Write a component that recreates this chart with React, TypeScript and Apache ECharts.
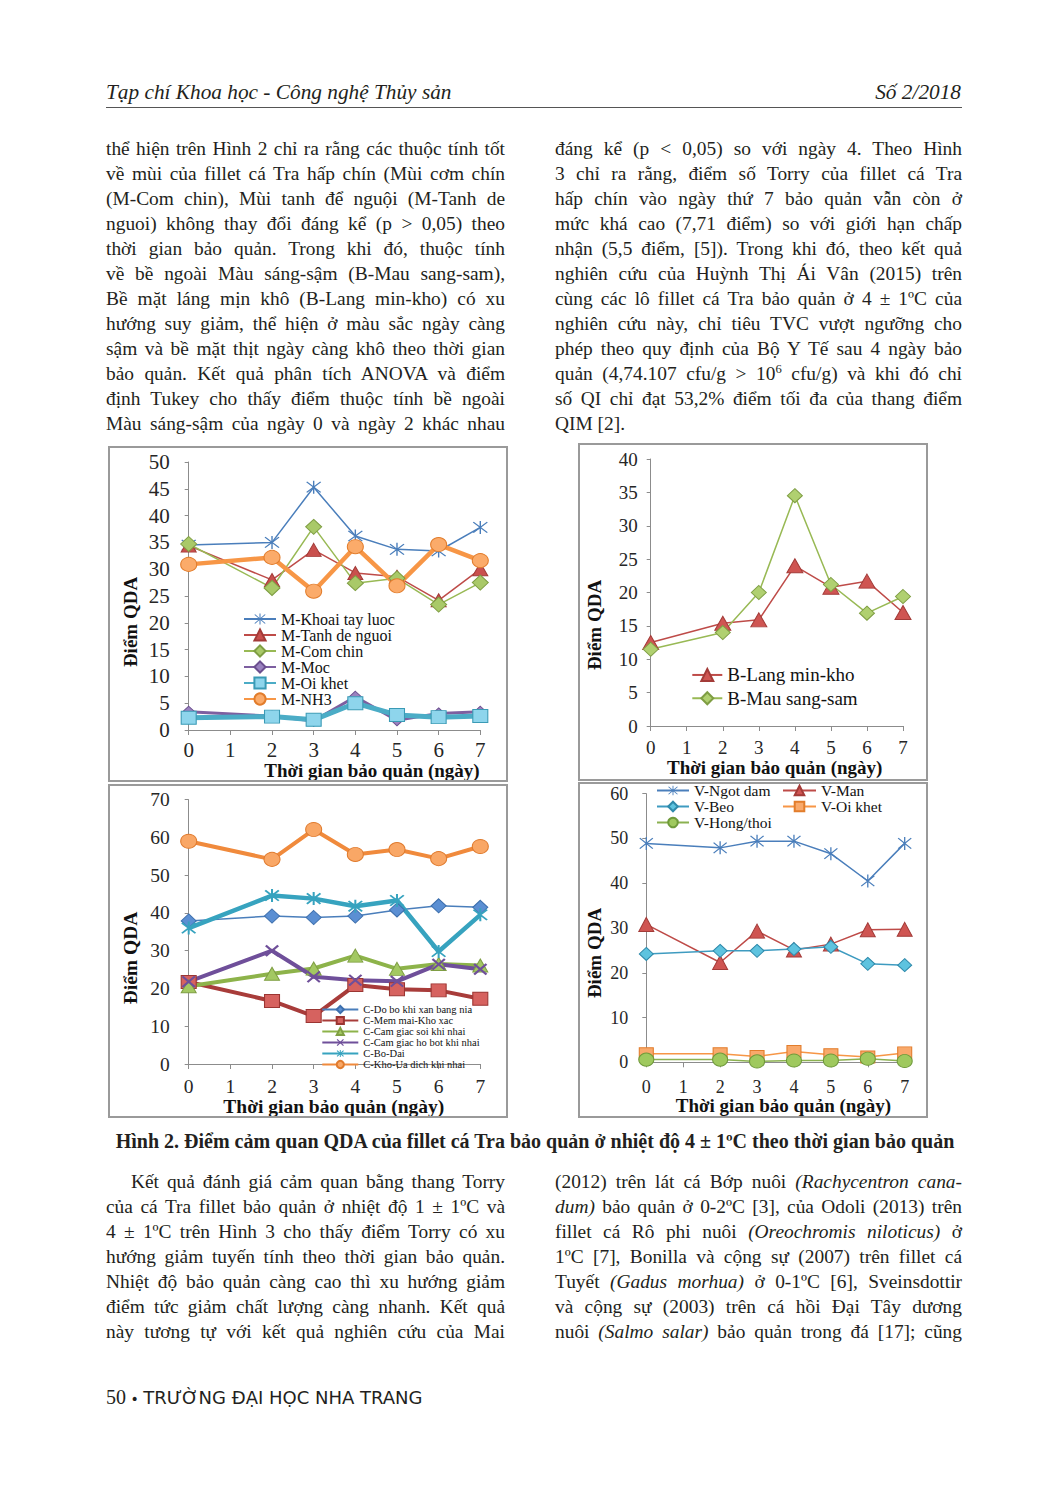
import React, { useEffect, useRef } from "react";
import * as echarts from "echarts";

// ---------------- DATA ----------------
const days = [0, 2, 3, 4, 5, 6, 7];

// Chart 1 – Mùi (odour)
const mKhoaiTayLuoc = [34.5, 35.0, 45.3, 36.2, 33.7, 33.4, 37.8];
const mTanhDeNguoi = [34.4, 28.0, 33.6, 29.3, 28.6, 24.2, 30.0];
const mComChin = [34.7, 26.5, 37.9, 27.4, 28.3, 23.4, 27.5];
const mMoc = [3.4, 2.6, 1.7, 6.2, 1.8, 3.1, 3.4];
const mOiKhet = [2.3, 2.5, 1.9, 5.0, 2.8, 2.4, 2.6];
const mNH3 = [30.9, 32.2, 25.9, 34.2, 26.9, 34.6, 31.6];

// Chart 2 – Bề ngoài (appearance)
const bLangMinKho = [12.5, 15.4, 15.9, 24.0, 20.8, 21.7, 17.0];
const bMauSangSam = [11.5, 14.0, 20.0, 34.5, 21.2, 16.9, 19.4];

// Chart 3 – Cấu trúc (texture)
const cDoBo = [37.9, 39.2, 38.8, 39.2, 40.8, 41.9, 41.5];
const cMemMai = [21.7, 16.7, 12.7, 20.9, 19.8, 19.5, 17.3];
const cSoi = [20.6, 23.9, 25.3, 28.7, 25.2, 26.5, 26.1];
const cHoBot = [21.8, 30.0, 23.1, 22.2, 21.9, 26.4, 25.1];
const cBoDai = [36.0, 44.6, 43.8, 41.8, 43.3, 29.8, 39.5];
const cKhoUa = [59.0, 54.2, 62.1, 55.5, 56.8, 54.4, 57.6];

// Chart 4 – Vị (flavour)
const vNgotDam = [48.9, 47.9, 49.4, 49.4, 46.6, 40.5, 48.9];
const vMan = [30.8, 22.3, 29.3, 25.1, 26.4, 29.6, 29.7];
const vBeo = [24.2, 24.9, 24.9, 25.3, 25.8, 22.0, 21.7];
const vOiKhet = [1.9, 1.9, 1.3, 2.4, 1.7, 1.2, 2.1];
const vHongThoi = [0.6, 0.6, 0.2, 0.4, 0.4, 0.8, 0.3];

const xTitle = "Thời gian bảo quản (ngày)";
const yTitle = "Điểm QDA";

// ---------------- TEXT ----------------
const headerLeft = "Tạp chí Khoa học - Công nghệ Thủy sản";
const headerRight = "Số 2/2018";

const topLeftLines = [
  "thể hiện trên Hình 2 chỉ ra rằng các thuộc tính tốt",
  "về mùi của fillet cá Tra hấp chín (Mùi cơm chín",
  "(M-Com chin), Mùi tanh để nguội (M-Tanh de",
  "nguoi) không thay đổi đáng kể (p > 0,05) theo",
  "thời gian bảo quản. Trong khi đó, thuộc tính",
  "về bề ngoài Màu sáng-sậm (B-Mau sang-sam),",
  "Bề mặt láng mịn khô (B-Lang min-kho) có xu",
  "hướng suy giảm, thể hiện ở màu sắc ngày càng",
  "sậm và bề mặt thịt ngày càng khô theo thời gian",
  "bảo quản. Kết quả phân tích ANOVA và điểm",
  "định Tukey cho thấy điểm thuộc tính bề ngoài",
  "Màu sáng-sậm của ngày 0 và ngày 2 khác nhau",
];
const topRightLines = [
  "đáng kể (p < 0,05) so với ngày 4. Theo Hình",
  "3 chỉ ra rằng, điểm số Torry của fillet cá Tra",
  "hấp chín vào ngày thứ 7 bảo quản vẫn còn ở",
  "mức khá cao (7,71 điểm) so với giới hạn chấp",
  "nhận (5,5 điểm, [5]). Trong khi đó, theo kết quả",
  "nghiên cứu của Huỳnh Thị Ái Vân (2015) trên",
  "cùng các lô fillet cá Tra bảo quản ở 4 ± 1ºC của",
  "nghiên cứu này, chỉ tiêu TVC vượt ngưỡng cho",
  "phép theo quy định của Bộ Y Tế sau 4 ngày bảo",
  "quản (4,74.107 cfu/g > 10^6^ cfu/g) và khi đó chỉ",
  "số QI chỉ đạt 53,2% điểm tối đa của thang điểm",
  "QIM [2].",
];
const caption =
  "Hình 2. Điểm cảm quan QDA của fillet cá Tra bảo quản ở nhiệt độ 4 ± 1ºC theo thời gian bảo quản";
const lowLeftLines = [
  "Kết quả đánh giá cảm quan bằng thang Torry",
  "của cá Tra fillet bảo quản ở nhiệt độ 1 ± 1ºC và",
  "4 ± 1ºC trên Hình 3 cho thấy điểm Torry có xu",
  "hướng giảm tuyến tính theo thời gian bảo quản.",
  "Nhiệt độ bảo quản càng cao thì xu hướng giảm",
  "điểm tức giảm chất lượng càng nhanh. Kết quả",
  "này tương tự với kết quả nghiên cứu của Mai",
];
const lowRightLines = [
  "(2012) trên lát cá Bớp nuôi _(Rachycentron cana-_",
  "_dum)_ bảo quản ở 0-2ºC [3], của Odoli (2013) trên",
  "fillet cá Rô phi nuôi _(Oreochromis niloticus)_ ở",
  "1ºC [7], Bonilla  và cộng sự (2007) trên fillet cá",
  "Tuyết _(Gadus morhua)_ ở 0-1ºC [6], Sveinsdottir",
  "và cộng sự (2003) trên cá hồi Đại Tây dương",
  "nuôi _(Salmo salar)_ bảo quản trong đá [17]; cũng",
];

// ---------------- STYLE HELPERS ----------------
const FONT = '"Liberation Serif", "Times New Roman", serif';
const AXC = "#8c8c8c";

function starPath(t: number, vertical: boolean): string {
  const o = t / 2 / Math.SQRT2;
  const f = (n: number) => n.toFixed(3);
  let p = "";
  if (vertical) {
    p += `M${f(10 - t / 2)},0L${f(10 + t / 2)},0L${f(10 + t / 2)},20L${f(10 - t / 2)},20Z `;
  }
  p += `M${f(2 + o)},${f(2 - o)}L${f(18 + o)},${f(18 - o)}L${f(18 - o)},${f(18 + o)}L${f(2 - o)},${f(2 + o)}Z `;
  p += `M${f(18 + o)},${f(2 + o)}L${f(2 + o)},${f(18 + o)}L${f(2 - o)},${f(18 - o)}L${f(18 - o)},${f(2 - o)}Z`;
  return "path://" + p;
}
const STAR = starPath(1.6, true);
const STAR_BOLD = starPath(2.4, true);
const CROSS = starPath(3, false);

interface SerOpt {
  symbol: string;
  size: number | number[];
  line: string;
  width: number;
  fill: string;
  border?: string;
  bw?: number;
}

function mk(name: string, vals: number[], o: SerOpt) {
  return {
    name,
    type: "line",
    data: days.map((d, i) => [d, vals[i]]),
    symbol: o.symbol,
    symbolSize: o.size,
    showAllSymbol: true,
    clip: false,
    silent: true,
    lineStyle: { color: o.line, width: o.width },
    itemStyle: {
      color: o.fill,
      borderColor: o.border || o.fill,
      borderWidth: o.bw === undefined ? 1 : o.bw,
    },
    emphasis: { disabled: true },
  };
}

interface ChartCfg {
  grid: { left: number; top: number; width: number; height: number };
  yMax: number;
  yInterval: number;
  tickFont: number;
  xMargin: number;
  yMargin: number;
  titleFont: number;
  xTitlePos: number[];
  yTitlePos: number[];
  legend: any;
  series: any[];
}

function buildOption(c: ChartCfg) {
  const labelStyle = { fontFamily: FONT, fontSize: c.tickFont, color: "#262626" };
  return {
    animation: false,
    backgroundColor: "#ffffff",
    grid: { ...c.grid, containLabel: false, outerBoundsMode: "none" },
    xAxis: {
      type: "value",
      min: 0,
      max: 7,
      interval: 1,
      axisLine: { show: true, onZero: false, lineStyle: { color: AXC, width: 1 } },
      axisTick: { show: true, length: 5, lineStyle: { color: AXC } },
      axisLabel: { ...labelStyle, margin: c.xMargin },
      splitLine: { show: false },
    },
    yAxis: {
      type: "value",
      min: 0,
      max: c.yMax,
      interval: c.yInterval,
      axisLine: { show: true, lineStyle: { color: AXC, width: 1 } },
      axisTick: { show: true, length: 4, lineStyle: { color: AXC } },
      axisLabel: { ...labelStyle, margin: c.yMargin },
      splitLine: { show: false },
    },
    legend: c.legend,
    graphic: [
      {
        type: "text",
        x: c.xTitlePos[0],
        y: c.xTitlePos[1],
        silent: true,
        style: {
          text: xTitle,
          font: `bold ${c.titleFont}px ${FONT}`,
          fill: "#111",
          align: "center",
          verticalAlign: "middle",
          textAlign: "center",
          textVerticalAlign: "middle",
        },
      },
      {
        type: "text",
        x: c.yTitlePos[0],
        y: c.yTitlePos[1],
        rotation: Math.PI / 2,
        silent: true,
        style: {
          text: yTitle,
          font: `bold ${c.titleFont}px ${FONT}`,
          fill: "#111",
          align: "center",
          verticalAlign: "middle",
          textAlign: "center",
          textVerticalAlign: "middle",
        },
      },
    ],
    series: c.series,
  };
}

function legendBase(left: number, top: number, iw: number, ih: number, fs: number, lh: number, data: string[]) {
  return {
    orient: "vertical",
    left,
    top,
    itemWidth: iw,
    itemHeight: ih,
    itemGap: 0,
    padding: 0,
    selectedMode: false,
    textStyle: { fontFamily: FONT, fontSize: fs, lineHeight: lh, color: "#111" },
    data,
  };
}

// ---------------- CHART OPTIONS ----------------
const opt1 = buildOption({
  grid: { left: 80.7, top: 16, width: 291.6, height: 268 },
  yMax: 50,
  yInterval: 5,
  tickFont: 21,
  xMargin: 9.5,
  yMargin: 19,
  titleFont: 19,
  xTitlePos: [264, 324],
  yTitlePos: [22, 176],
  legend: legendBase(135, 165, 32, 14, 16, 16, [
    "M-Khoai tay luoc",
    "M-Tanh de nguoi",
    "M-Com chin",
    "M-Moc",
    "M-Oi khet",
    "M-NH3",
  ]),
  series: [
    mk("M-Khoai tay luoc", mKhoaiTayLuoc, { symbol: STAR, size: [15, 13], line: "#4a7ebb", width: 1.5, fill: "#4a7ebb", bw: 0 }),
    mk("M-Tanh de nguoi", mTanhDeNguoi, { symbol: "triangle", size: [15, 13], line: "#be4b48", width: 1.5, fill: "#c9504d", border: "#a33b38" }),
    mk("M-Com chin", mComChin, { symbol: "diamond", size: [16, 15], line: "#98b954", width: 1.5, fill: "#a9c968", border: "#7f9e43" }),
    mk("M-Moc", mMoc, { symbol: "diamond", size: [12, 11], line: "#7d5fa0", width: 3, fill: "#9a82bf", border: "#6b4f8f" }),
    mk("M-Oi khet", mOiKhet, { symbol: "rect", size: [15, 13], line: "#4bacc6", width: 5, fill: "#8ed5ec", border: "#3a9ab5" }),
    mk("M-NH3", mNH3, { symbol: "circle", size: [16, 14], line: "#f79646", width: 4.5, fill: "#fbab6a", border: "#e27d2c" }),
  ],
});

const opt2 = buildOption({
  grid: { left: 72.7, top: 16, width: 252.3, height: 267 },
  yMax: 40,
  yInterval: 5,
  tickFont: 19,
  xMargin: 12,
  yMargin: 13,
  titleFont: 19,
  xTitlePos: [196.7, 324.5],
  yTitlePos: [16, 182],
  legend: legendBase(113.3, 220.3, 30, 15, 19, 23.3, ["B-Lang min-kho", "B-Mau sang-sam"]),
  series: [
    mk("B-Lang min-kho", bLangMinKho, { symbol: "triangle", size: [16, 14], line: "#be4b48", width: 1.5, fill: "#cf5552", border: "#a33b38" }),
    mk("B-Mau sang-sam", bMauSangSam, { symbol: "diamond", size: [15, 14], line: "#98b954", width: 1.5, fill: "#b0d070", border: "#7f9e43" }),
  ],
});

const opt3 = buildOption({
  grid: { left: 80.7, top: 15.7, width: 291.6, height: 264.3 },
  yMax: 70,
  yInterval: 10,
  tickFont: 19.5,
  xMargin: 12,
  yMargin: 19,
  titleFont: 19.5,
  xTitlePos: [225.8, 322],
  yTitlePos: [22, 174],
  legend: legendBase(213.3, 220, 36, 9, 10.5, 10.5, [
    "C-Do bo khi xan bang nia",
    "C-Mem mai-Kho xac",
    "C-Cam giac soi khi nhai",
    "C-Cam giac ho bot khi nhai",
    "C-Bo-Dai",
    "C-Kho-Ua dich khi nhai",
  ]),
  series: [
    mk("C-Do bo khi xan bang nia", cDoBo, { symbol: "diamond", size: [15, 14], line: "#4a7ebb", width: 1.5, fill: "#5b8fd3", border: "#3d6fad" }),
    mk("C-Mem mai-Kho xac", cMemMai, { symbol: "rect", size: [15, 13], line: "#a83c3a", width: 4, fill: "#d6625f", border: "#9b3532" }),
    mk("C-Cam giac soi khi nhai", cSoi, { symbol: "triangle", size: [15, 13], line: "#8db34a", width: 4, fill: "#a3c862", border: "#7f9e43" }),
    mk("C-Cam giac ho bot khi nhai", cHoBot, { symbol: CROSS, size: [14, 12], line: "#6f4f9a", width: 4, fill: "#6f4f9a", bw: 0 }),
    mk("C-Bo-Dai", cBoDai, { symbol: STAR_BOLD, size: [15, 13], line: "#37a3bf", width: 4.5, fill: "#37a3bf", bw: 0 }),
    mk("C-Kho-Ua dich khi nhai", cKhoUa, { symbol: "circle", size: [16, 14], line: "#f08a3c", width: 4, fill: "#f9a766", border: "#e07b2e" }),
  ],
});

const opt4 = buildOption({
  grid: { left: 68.3, top: 11.7, width: 258.4, height: 268.6 },
  yMax: 60,
  yInterval: 10,
  tickFont: 18,
  xMargin: 15.5,
  yMargin: 18,
  titleFont: 19,
  xTitlePos: [205.5, 323.7],
  yTitlePos: [16, 171],
  legend: [
    legendBase(78, 0.5, 32, 12, 15.5, 15.5, ["V-Ngot dam", "V-Beo", "V-Hong/thoi"]),
    legendBase(204, 0.5, 33, 12, 15.5, 15.5, ["V-Man", "V-Oi khet"]),
  ],
  series: [
    mk("V-Ngot dam", vNgotDam, { symbol: STAR, size: [14, 13], line: "#4a7ebb", width: 1.5, fill: "#4a7ebb", bw: 0 }),
    mk("V-Man", vMan, { symbol: "triangle", size: [15, 14], line: "#be4b48", width: 1.5, fill: "#cf5552", border: "#a33b38" }),
    mk("V-Beo", vBeo, { symbol: "diamond", size: [14, 13], line: "#3e9bc0", width: 1.5, fill: "#5ec3df", border: "#2f8aab" }),
    mk("V-Oi khet", vOiKhet, { symbol: "rect", size: [14, 12], line: "#f79646", width: 1.5, fill: "#f9a96b", border: "#e27d2c" }),
    mk("V-Hong/thoi", vHongThoi, { symbol: "circle", size: [15, 13], line: "#8bb150", width: 1.5, fill: "#9fc95e", border: "#6f9a3a" }),
  ],
});

// ---------------- COMPONENTS ----------------
function EChart(props: { option: any; left: number; top: number; width: number; height: number }) {
  const ref = useRef<HTMLDivElement>(null);
  useEffect(() => {
    const chart = echarts.init(ref.current as HTMLDivElement, null, { renderer: "svg" });
    chart.setOption(props.option);
    return () => chart.dispose();
  }, []);
  return (
    <>
      <div
        ref={ref}
        style={{ position: "absolute", left: props.left, top: props.top, width: props.width, height: props.height }}
      />
      <div
        style={{
          position: "absolute",
          left: props.left,
          top: props.top,
          width: props.width,
          height: props.height,
          border: "2px solid #9a9a9a",
          boxSizing: "border-box",
          pointerEvents: "none",
        }}
      />
    </>
  );
}

function rich(s: string) {
  const parts = s.split(/(_[^_]+_|\^[^^]+\^)/);
  return parts.map((p, i) => {
    if (p.length > 1 && p.startsWith("_") && p.endsWith("_")) return <i key={i}>{p.slice(1, -1)}</i>;
    if (p.length > 1 && p.startsWith("^") && p.endsWith("^"))
      return (
        <sup key={i} style={{ fontSize: "0.65em", lineHeight: 0 }}>
          {p.slice(1, -1)}
        </sup>
      );
    return <React.Fragment key={i}>{p}</React.Fragment>;
  });
}

function TextCol(props: {
  lines: string[];
  x: number;
  y0: number;
  w: number;
  lastLeft?: boolean;
  indent?: number;
}) {
  return (
    <>
      {props.lines.map((ln, i) => {
        const isLast = props.lastLeft && i === props.lines.length - 1;
        const ind = i === 0 && props.indent ? props.indent : 0;
        return (
          <div
            key={i}
            style={{
              position: "absolute",
              left: props.x + ind,
              top: props.y0 + i * 25 - 12.5,
              width: props.w - ind,
              height: 25,
              lineHeight: "25px",
              fontFamily: FONT,
              fontSize: 19.4,
              color: "#231f20",
              textAlign: isLast ? "left" : "justify",
              textAlignLast: isLast ? "left" : "justify",
            } as React.CSSProperties}
          >
            {rich(ln)}
          </div>
        );
      })}
    </>
  );
}

export default function App() {
  return (
    <div
      style={{
        position: "absolute",
        left: 0,
        top: 0,
        width: 1058,
        height: 1499,
        background: "#ffffff",
        overflow: "hidden",
      }}
    >
      {/* Header */}
      <div
        style={{
          position: "absolute",
          left: 106,
          top: 78,
          fontFamily: FONT,
          fontStyle: "italic",
          fontSize: 21.3,
          lineHeight: "28px",
          color: "#231f20",
          whiteSpace: "nowrap",
        }}
      >
        {headerLeft}
      </div>
      <div
        style={{
          position: "absolute",
          right: 1058 - 961,
          top: 78,
          fontFamily: FONT,
          fontStyle: "italic",
          fontSize: 21.3,
          lineHeight: "28px",
          color: "#231f20",
          whiteSpace: "nowrap",
        }}
      >
        {headerRight}
      </div>
      <div style={{ position: "absolute", left: 106, top: 107, width: 856, height: 1, background: "#555" }} />

      {/* Top paragraphs */}
      <TextCol lines={topLeftLines} x={106} y0={148} w={399} />
      <TextCol lines={topRightLines} x={555} y0={148} w={407} lastLeft />

      {/* Charts */}
      <EChart option={opt1} left={108} top={446} width={400} height={336} />
      <EChart option={opt2} left={578} top={443} width={350} height={338} />
      <EChart option={opt3} left={108} top={784} width={400} height={334} />
      <EChart option={opt4} left={578} top={782} width={350} height={336} />

      {/* Caption */}
      <div
        style={{
          position: "absolute",
          left: 100,
          top: 1128,
          width: 870,
          textAlign: "center",
          fontFamily: FONT,
          fontWeight: "bold",
          fontSize: 20,
          lineHeight: "26px",
          color: "#231f20",
          whiteSpace: "nowrap",
        }}
      >
        {caption}
      </div>

      {/* Lower paragraphs */}
      <TextCol lines={lowLeftLines} x={106} y0={1181} w={399} indent={25} />
      <TextCol lines={lowRightLines} x={555} y0={1181} w={407} />

      {/* Footer */}
      <div
        style={{
          position: "absolute",
          left: 106,
          top: 1384,
          lineHeight: "26px",
          color: "#231f20",
          whiteSpace: "nowrap",
        }}
      >
        <span style={{ fontFamily: FONT, fontSize: 20 }}>50</span>
        <span style={{ fontFamily: '"DejaVu Sans", sans-serif', fontSize: 14 }}> • </span>
        <span style={{ fontFamily: '"DejaVu Sans", sans-serif', fontSize: 18 }}>TRƯỜNG ĐẠI HỌC NHA TRANG</span>
      </div>
    </div>
  );
}
